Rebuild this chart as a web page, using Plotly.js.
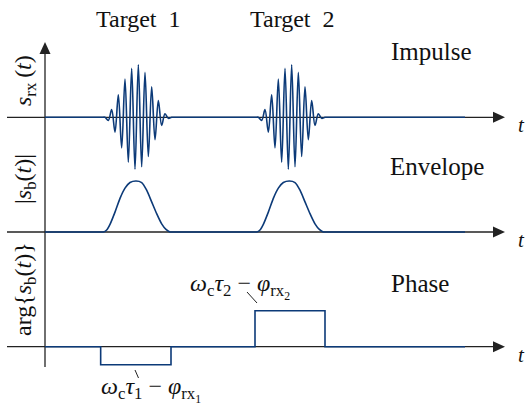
<!DOCTYPE html>
<html>
<head>
<meta charset="utf-8">
<script src="https://cdn.plot.ly/plotly-3.0.1.min.js"></script>
<style>html,body{margin:0;padding:0;background:#fff}#chart{width:525px;height:412px}</style>
</head>
<body>
<div id="chart"></div>
<script>
// ---- data ----
// time axis in arbitrary units (one unit = half a carrier period)
const impulseT = [0, 17, 18, 19, 20, 21, 22, 23, 24, 25, 26, 27, 28, 29, 30, 31, 32, 33, 34, 35, 36, 37, 38, 39,
                  63, 64, 65, 66, 67, 68, 69, 70, 71, 72, 73, 74, 75, 76, 77, 78, 79, 80, 81, 82, 83, 84, 85, 126];
const impulseA = [0, 0, 0, -0.06, 0.15, -0.29, 0.44, -0.60, 0.75, -0.88, 0.96, -1.02, 1.03, -0.97, 0.88, -0.77, 0.60, -0.44, 0.33, -0.16, 0.07, -0.02, 0, 0,
                  0, 0, -0.06, 0.15, -0.29, 0.44, -0.60, 0.75, -0.88, 0.96, -1.02, 1.03, -0.97, 0.88, -0.77, 0.60, -0.44, 0.33, -0.16, 0.07, -0.02, 0, 0, 0];
const envelopeT = [0, 16, 17, 17.5, 18.5, 19.5, 21, 22.5, 24, 25.5, 27.3, 29, 30.5, 32, 33.5, 35, 36.3, 37.5, 38, 39,
                   62, 63, 63.5, 64.5, 65.5, 67, 68.5, 70, 71.5, 73.3, 75, 76.5, 78, 79.5, 81, 82.3, 83.5, 84, 85, 126];
const envelopeA = [0, 0, 0, 0, 0.04, 0.15, 0.39, 0.66, 0.86, 0.97, 1, 0.97, 0.82, 0.59, 0.36, 0.16, 0.05, 0, 0, 0,
                   0, 0, 0, 0.04, 0.15, 0.39, 0.66, 0.86, 0.97, 1, 0.97, 0.82, 0.59, 0.36, 0.16, 0.05, 0, 0, 0, 0];
const phaseT = [0, 16.7, 16.7, 37.8, 37.8, 63, 63, 84, 84, 126];
const phaseV = [0, 0, -0.5, -0.5, 0, 0, 1, 1, 0, 0];
const targetLabels = ['Target\u00a0\u00a01', 'Target\u00a0\u00a02'];
const panelLabels = ['Impulse', 'Envelope', 'Phase'];
const yLabels = ['<i>s</i><sub>rx</sub>\u2009(<i>t</i>)', '|<i>s</i><sub>b</sub>(<i>t</i>)|', 'arg{<i>s</i><sub>b</sub>(<i>t</i>)}'];
const phaseLabels = ['<i>ω</i><sub>c</sub><i>τ</i><sub>1</sub> − <i>φ</i><sub>rx<sub>1</sub></sub>',
                     '<i>ω</i><sub>c</sub><i>τ</i><sub>2</sub> − <i>φ</i><sub>rx<sub>2</sub></sub>'];

// ---- layout helpers ----
const W = 525, H = 412;
const X0PX = 45, PXPERUNIT = 10 / 3;           // t=0 at x=45px
const tx = px => (px - X0PX) / PXPERUNIT;
const P = (px, py) => ({x: px / W, y: 1 - py / H});
function yr(zeroPx, pxPerUnit) { return [-(H - zeroPx) / pxPerUnit, zeroPx / pxPerUnit]; }

const BLUE = '#0c3a78', AX = '#222';
const FONT = 'Liberation Serif';

const traces = [
  {x: impulseT, y: impulseA, yaxis: 'y', mode: 'lines', line: {color: BLUE, width: 1.6, shape: 'spline', smoothing: 1}, hoverinfo: 'skip'},
  {x: envelopeT, y: envelopeA, yaxis: 'y2', mode: 'lines', line: {color: BLUE, width: 1.6, shape: 'spline', smoothing: 0.7}, hoverinfo: 'skip'},
  {x: phaseT, y: phaseV, yaxis: 'y3', mode: 'lines', line: {color: BLUE, width: 1.6}, hoverinfo: 'skip'}
];

const shapes = [];
['y', 'y2', 'y3'].forEach(r => {
  shapes.push({type: 'line', layer: 'below', xref: 'x', yref: r, x0: tx(7), x1: tx(494), y0: 0, y1: 0, line: {color: AX, width: 1.3}});
  shapes.push({type: 'path', xref: 'x', yref: r, xsizemode: 'pixel', ysizemode: 'pixel', xanchor: tx(505), yanchor: 0,
               path: 'M0,0 L-12,5.5 L-12,-5.5 Z', fillcolor: AX, line: {width: 0}});
});
shapes.push({type: 'line', layer: 'below', xref: 'x', yref: 'paper', x0: 0, x1: 0, y0: 1 - 367 / H, y1: 1 - 54 / H, line: {color: AX, width: 1.3}});
shapes.push({type: 'path', xref: 'x', yref: 'paper', xsizemode: 'pixel', ysizemode: 'pixel', xanchor: 0, yanchor: 1 - 42 / H,
             path: 'M0,0 L-5.5,-12 L5.5,-12 Z', fillcolor: AX, line: {width: 0}});
// leader ticks for the phase labels
shapes.push({type: 'line', xref: 'x', yref: 'y3', x0: tx(135), x1: tx(138.5), y0: -(370 - 346.7) / 36, y1: -(378 - 346.7) / 36, line: {color: AX, width: 1}});
shapes.push({type: 'line', xref: 'x', yref: 'y3', x0: tx(247), x1: tx(257), y0: (346.7 - 292) / 36, y1: (346.7 - 303) / 36, line: {color: AX, width: 1}});

const ann = [];
function txt(text, px, py, size, opts) {
  const p = P(px, py);
  ann.push(Object.assign({text: text, xref: 'paper', yref: 'paper', x: p.x, y: p.y, showarrow: false,
    xanchor: 'center', yanchor: 'middle', font: {family: FONT, size: size, color: '#111'}}, opts || {}));
}
txt(targetLabels[0], 138.5, 19, 24);
txt(targetLabels[1], 292, 19, 24);
txt(panelLabels[0], 389, 52, 25, {xanchor: 'left'});
txt(panelLabels[1], 388, 167, 25, {xanchor: 'left'});
txt(panelLabels[2], 389, 283, 25, {xanchor: 'left'});
txt(yLabels[0], 25, 81, 24, {textangle: -90});
txt(yLabels[1], 25, 179, 24, {textangle: -90});
txt(yLabels[2], 25, 289, 24, {textangle: -90});
[125, 240, 355].forEach(py => txt('<i>t</i>', 521, py, 21));
txt(phaseLabels[0], 151, 389, 24);
txt(phaseLabels[1], 240, 286, 24);

const layout = {
  width: W, height: H, margin: {l: 0, r: 0, t: 0, b: 0},
  paper_bgcolor: '#fff', plot_bgcolor: 'rgba(0,0,0,0)', showlegend: false,
  font: {family: FONT},
  xaxis: {visible: false, range: [tx(0), tx(W)], fixedrange: true},
  yaxis: {visible: false, range: yr(117.3, 51), fixedrange: true},
  yaxis2: {visible: false, overlaying: 'y', range: yr(232, 51), fixedrange: true},
  yaxis3: {visible: false, overlaying: 'y', range: yr(346.7, 36), fixedrange: true},
  shapes: shapes, annotations: ann
};
Plotly.newPlot('chart', traces, layout, {displayModeBar: false, staticPlot: true});
</script>
</body>
</html>
